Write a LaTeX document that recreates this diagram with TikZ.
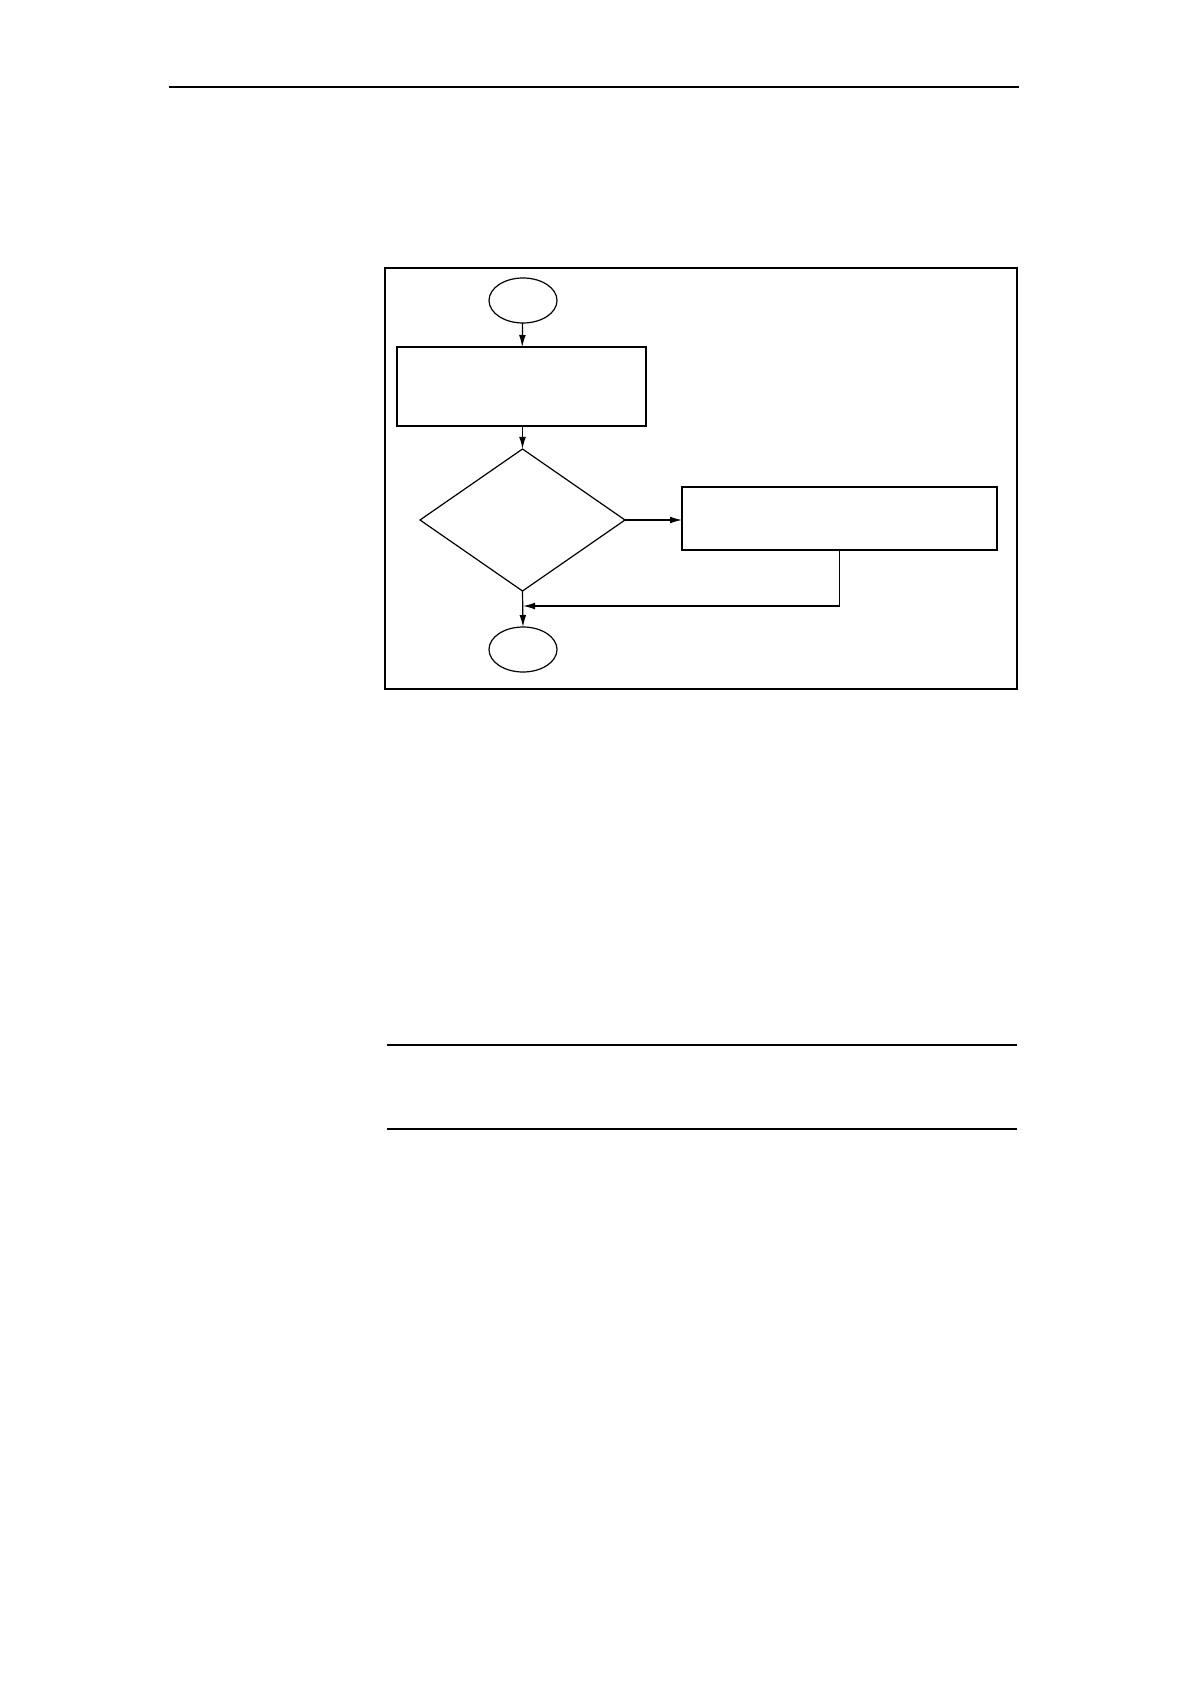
\documentclass[tikz,border=0pt]{standalone}
\usetikzlibrary{shapes.geometric,arrows.meta}
\begin{document}
\begin{tikzpicture}[x=0.5pt,y=-0.5pt,
  every node/.style={draw=black,line width=0.6pt,inner sep=0pt,outer sep=0pt},
  term/.style={ellipse,minimum width=34pt,minimum height=22.5pt},
  procbox/.style={rectangle},
  decide/.style={diamond},
  rule/.style={line width=0.75pt},
  conn/.style={line width=0.6pt,-{Latex[length=6pt,width=3.4pt]}},
  plain/.style={line width=0.6pt}]
\useasboundingbox[fill=white] (0,0) rectangle (1190,1684);
% page rules
\coordinate (r1a) at (169,87); \coordinate (r1b) at (1019,87);
\draw[rule] (r1a) -- (r1b);
\coordinate (r2a) at (387,1045); \coordinate (r2b) at (1017,1045);
\draw[rule] (r2a) -- (r2b);
\coordinate (r3a) at (387,1129); \coordinate (r3b) at (1017,1129);
\draw[rule] (r3a) -- (r3b);
% frame
\node[procbox,line width=0.75pt,minimum width=316pt,minimum height=210.5pt] (frame) at (701,478.5) {};
% flowchart
\node[term] (s) at (523,300.5) {};
\node[procbox,minimum width=124.5pt,minimum height=39.5pt] (b1) at (521.5,386.5) {};
\node[decide,minimum width=102.5pt,minimum height=71pt] (d) at (522.5,520) {};
\node[procbox,minimum width=157.5pt,minimum height=31.5pt] (b2) at (839.5,518.5) {};
\node[term] (e) at (523,649.5) {};
\coordinate (j) at (523,606);
\draw[conn] (s) -- (b1);
\draw[conn] (b1.south -| d.north) -- (d.north);
\draw[conn] (d.east) -- (d.east -| b2.west);
\draw[conn] (b2.south) |- (j);
\draw[conn] (d.south) -- (e.north);
\end{tikzpicture}
\end{document}
